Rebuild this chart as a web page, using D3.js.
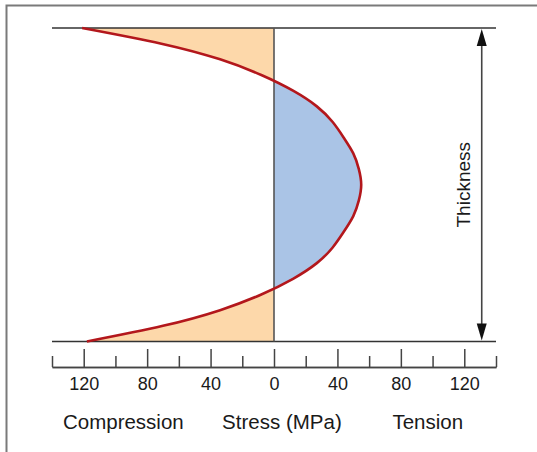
<!DOCTYPE html>
<html>
<head>
<meta charset="utf-8">
<script src="https://cdn.jsdelivr.net/npm/d3@7"></script>
<style>
  body { margin: 0; background: #fff; }
  svg { display: block; font-family: "Liberation Sans", Arial, sans-serif; }
</style>
</head>
<body>
<div id="chart-holder"></div>
<script>
// position through the thickness (0 = top surface, 1 = bottom surface)
var depth = [0, 0.05, 0.1, 0.15, 0.2, 0.25, 0.3, 0.35, 0.4, 0.45, 0.5,
             0.55, 0.6, 0.65, 0.7, 0.75, 0.8, 0.85, 0.9, 0.95, 1];
// residual stress in MPa (negative = compression)
var stress = [-121, -71, -34, -8, 12, 27, 37, 44, 50, 53.5, 55,
              53.5, 50, 44, 37, 27, 12, -8, -34, -70, -118];
var majorTicks = [-120, -80, -40, 0, 40, 80, 120];
var minorTicks = [-140, -100, -60, -20, 20, 60, 100, 140];
var bottomLabels = ["Compression", "Stress (MPa)", "Tension"];
var bottomLabelAt = [-95, 5, 97];

var data = depth.map(function(d, i) {
  return { depth: d, stress: stress[i] };
});

var width = 537, height = 452;
var svg = d3.select("#chart-holder")
  .append("svg")
  .attr("width", width)
  .attr("height", height);

// frame (top and left edges only)
svg.append("path")
  .attr("d", "M6.5," + height + "V5.5H" + width)
  .attr("fill", "none")
  .attr("stroke", "#7a7a7a")
  .attr("stroke-width", 2);

var x = d3.scaleLinear().domain([-140, 140]).range([52, 496]);
var y = d3.scaleLinear().domain([0, 1]).range([28, 341.5]);

// clip regions for compression / tension fills
var defs = svg.append("defs");
defs.append("clipPath").attr("id", "clip-comp")
  .append("rect")
  .attr("x", x(-140)).attr("y", y(0))
  .attr("width", x(0) - x(-140)).attr("height", y(1) - y(0));
defs.append("clipPath").attr("id", "clip-tens")
  .append("rect")
  .attr("x", x(0)).attr("y", y(0))
  .attr("width", x(140) - x(0)).attr("height", y(1) - y(0));

var curve = d3.curveNatural;
var area = d3.area()
  .y(function(d) { return y(d.depth); })
  .x0(x(0))
  .x1(function(d) { return x(d.stress); })
  .curve(curve);

svg.append("path")
  .datum(data)
  .attr("d", area)
  .attr("fill", "#fdd8aa")
  .attr("clip-path", "url(#clip-comp)");
svg.append("path")
  .datum(data)
  .attr("d", area)
  .attr("fill", "#aac4e6")
  .attr("clip-path", "url(#clip-tens)");

// surfaces
svg.selectAll("line.surface")
  .data([0, 1])
  .enter()
  .append("line")
  .attr("class", "surface")
  .attr("x1", x(-140)).attr("x2", x(140))
  .attr("y1", function(d) { return y(d); })
  .attr("y2", function(d) { return y(d); })
  .attr("stroke", "#333")
  .attr("stroke-width", 1.6);

// zero stress line
svg.append("line")
  .attr("x1", x(0)).attr("x2", x(0))
  .attr("y1", y(0)).attr("y2", y(1))
  .attr("stroke", "#555")
  .attr("stroke-width", 1.6);

// stress profile
var line = d3.line()
  .y(function(d) { return y(d.depth); })
  .x(function(d) { return x(d.stress); })
  .curve(curve);
svg.append("path")
  .datum(data)
  .attr("d", line)
  .attr("fill", "none")
  .attr("stroke", "#b3171c")
  .attr("stroke-width", 2.6);

// thickness arrow
var ax = x(131);
svg.append("line")
  .attr("x1", ax).attr("x2", ax)
  .attr("y1", y(0) + 14).attr("y2", y(1) - 14)
  .attr("stroke", "#444")
  .attr("stroke-width", 1.6);
svg.append("path")
  .attr("d", "M" + ax + "," + (y(0) + 1) + "l5,17h-10z")
  .attr("fill", "#111");
svg.append("path")
  .attr("d", "M" + ax + "," + (y(1) - 1) + "l5,-17h-10z")
  .attr("fill", "#111");
svg.append("text")
  .attr("transform", "translate(" + (ax - 12) + "," + ((y(0) + y(1)) / 2) + ") rotate(-90)")
  .attr("text-anchor", "middle")
  .attr("font-size", 19)
  .attr("fill", "#1a1a1a")
  .text("Thickness");

// stress axis
var axisY = 367;
var minorAxis = svg.append("g")
  .attr("transform", "translate(0," + axisY + ")")
  .call(d3.axisBottom(x).tickValues(minorTicks).tickSize(-11).tickSizeOuter(0).tickFormat(""));
var majorAxis = svg.append("g")
  .attr("transform", "translate(0," + axisY + ")")
  .call(d3.axisBottom(x).tickValues(majorTicks).tickSize(-18).tickSizeOuter(0).tickPadding(10)
    .tickFormat(function(d) { return Math.abs(d); }));
svg.selectAll(".domain, .tick line")
  .attr("stroke", "#444")
  .attr("stroke-width", 1.5);
majorAxis.selectAll("text")
  .attr("font-size", 18)
  .attr("font-family", "Liberation Sans, Arial, sans-serif")
  .attr("fill", "#1a1a1a");

svg.selectAll("text.bottom-label")
  .data(bottomLabels)
  .enter()
  .append("text")
  .attr("class", "bottom-label")
  .attr("x", function(d, i) { return x(bottomLabelAt[i]); })
  .attr("y", 429)
  .attr("text-anchor", "middle")
  .attr("font-size", 20.5)
  .attr("fill", "#1a1a1a")
  .text(function(d) { return d; });
</script>
</body>
</html>
